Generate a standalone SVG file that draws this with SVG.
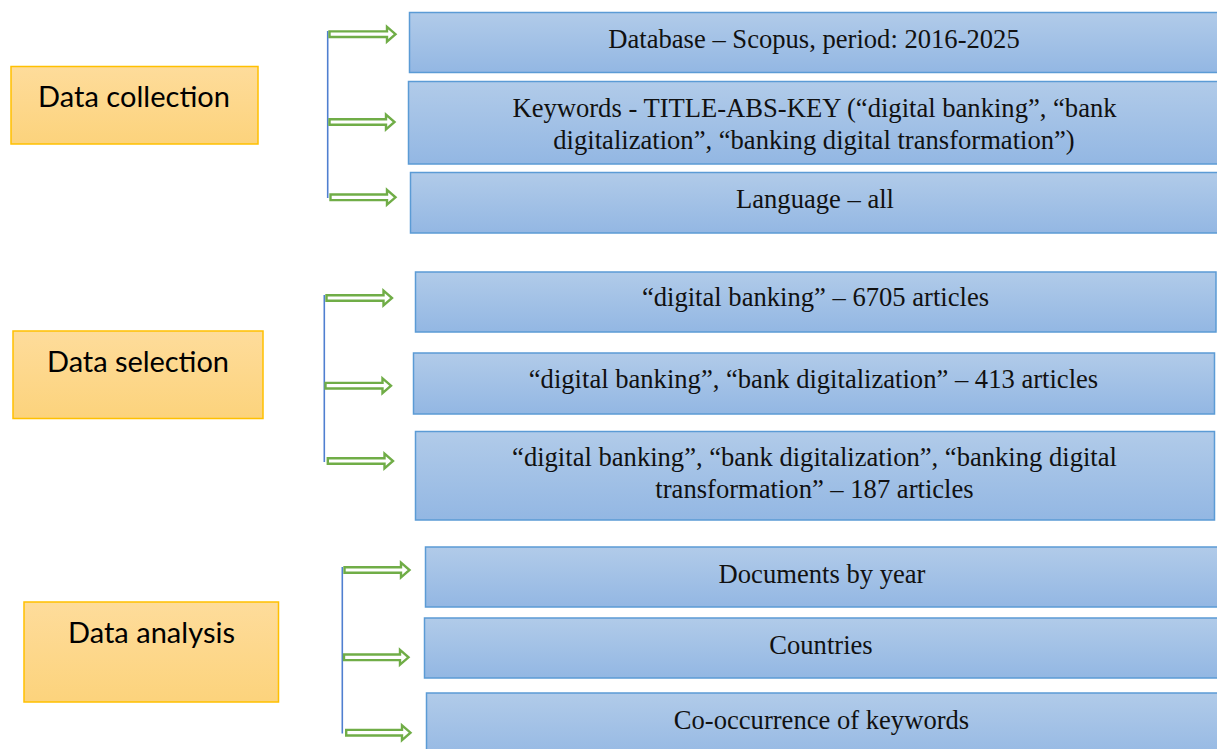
<svg xmlns="http://www.w3.org/2000/svg" width="1217" height="749" viewBox="0 0 1217 749">
<defs>
<linearGradient id="gOr" x1="0" y1="0" x2="0" y2="1"><stop offset="0" stop-color="#FEDC9B"/><stop offset="1" stop-color="#FCD37C"/></linearGradient>
<linearGradient id="gBl" x1="0" y1="0" x2="0" y2="1"><stop offset="0" stop-color="#B1CBE9"/><stop offset="1" stop-color="#93B7E3"/></linearGradient>
</defs>
<style>
.or{fill:url(#gOr);stroke:#FFC000;stroke-width:1.5}
.bl{fill:url(#gBl);stroke:#5B9BD5;stroke-width:1.5}
.ot{font-family:Lato,"Open Sans",sans-serif;font-size:29px;fill:#000;text-anchor:middle}
.bt{font-family:"Liberation Serif","Times New Roman",serif;font-size:26.6px;fill:#111;text-anchor:middle}
.vl{stroke:#4F7FD0;stroke-width:1.6;fill:none}
.ar{fill:#fff;stroke:#70AD47;stroke-width:2.4;stroke-linejoin:miter}
</style>
<g id="data-collection"><rect class="or" x="11" y="66.5" width="247" height="77.5"/><text class="ot" x="134" y="107" textLength="192">Data collection</text></g>
<g id="data-selection"><rect class="or" x="13" y="331" width="250" height="87.5"/><text class="ot" x="138" y="372" textLength="182">Data selection</text></g>
<g id="data-analysis"><rect class="or" x="24" y="602" width="254.5" height="100"/><text class="ot" x="151.5" y="643" textLength="167">Data analysis</text></g>

<g id="database"><rect class="bl" x="409.5" y="12.5" width="820" height="60"/><text class="bt" x="814" y="48">Database – Scopus, period: 2016-2025</text></g>
<g id="keywords"><rect class="bl" x="408.5" y="81.5" width="820" height="82.5"/><text class="bt" x="814.5" y="117">Keywords - TITLE-ABS-KEY (“digital banking”, “bank</text><text class="bt" x="814" y="149">digitalization”, “banking digital transformation”)</text></g>
<g id="language"><rect class="bl" x="410.5" y="172.5" width="820" height="60.5"/><text class="bt" x="815" y="208">Language – all</text></g>

<g id="sel-1"><rect class="bl" x="415.5" y="272" width="800.5" height="60"/><text class="bt" x="815.5" y="306">“digital banking” – 6705 articles</text></g>
<g id="sel-2"><rect class="bl" x="413.5" y="353" width="801" height="61"/><text class="bt" x="813.5" y="388">“digital banking”, “bank digitalization” – 413 articles</text></g>
<g id="sel-3"><rect class="bl" x="415.5" y="431.5" width="799" height="88.5"/><text class="bt" x="814.5" y="466">“digital banking”, “bank digitalization”, “banking digital</text><text class="bt" x="814.5" y="498">transformation” – 187 articles</text></g>

<g id="docs-by-year"><rect class="bl" x="425.5" y="547" width="810" height="60"/><text class="bt" x="822" y="583">Documents by year</text></g>
<g id="countries"><rect class="bl" x="424.5" y="618" width="810" height="60"/><text class="bt" x="821" y="654">Countries</text></g>
<g id="co-occurrence"><rect class="bl" x="426.5" y="693" width="810" height="70"/><text class="bt" x="821.5" y="729">Co-occurrence of keywords</text></g>

<g id="connectors">
<line class="vl" x1="327.7" y1="31" x2="327.7" y2="198"/>
<path class="ar" d="M329.5,31.4 H387 V26.8 L395.5,34.2 L387,41.6 V37 H329.5 Z"/>
<path class="ar" d="M329.5,119.2 H386 V114.6 L394.5,122 L386,129.4 V124.8 H329.5 Z"/>
<path class="ar" d="M330.5,194.5 H387 V189.9 L395.5,197.3 L387,204.7 V200.1 H330.5 Z"/>

<line class="vl" x1="324.3" y1="295" x2="324.3" y2="462"/>
<path class="ar" d="M326.5,295.2 H383.5 V290.6 L392,298 L383.5,305.4 V300.8 H326.5 Z"/>
<path class="ar" d="M325.5,382.9 H382.5 V378.3 L391,385.7 L382.5,393.1 V388.5 H325.5 Z"/>
<path class="ar" d="M327.8,458.2 H384.5 V453.6 L393,461 L384.5,468.4 V463.8 H327.8 Z"/>

<line class="vl" x1="342.3" y1="567" x2="342.3" y2="733.5"/>
<path class="ar" d="M344.5,567.2 H401 V562.6 L409.5,570 L401,577.4 V572.8 H344.5 Z"/>
<path class="ar" d="M344,654.5 H400 V649.9 L408.5,657.3 L400,664.7 V660.1 H344 Z"/>
<path class="ar" d="M346.2,729.9 H402 V725.3 L410.5,732.7 L402,740.1 V735.5 H346.2 Z"/>
</g>
</svg>
